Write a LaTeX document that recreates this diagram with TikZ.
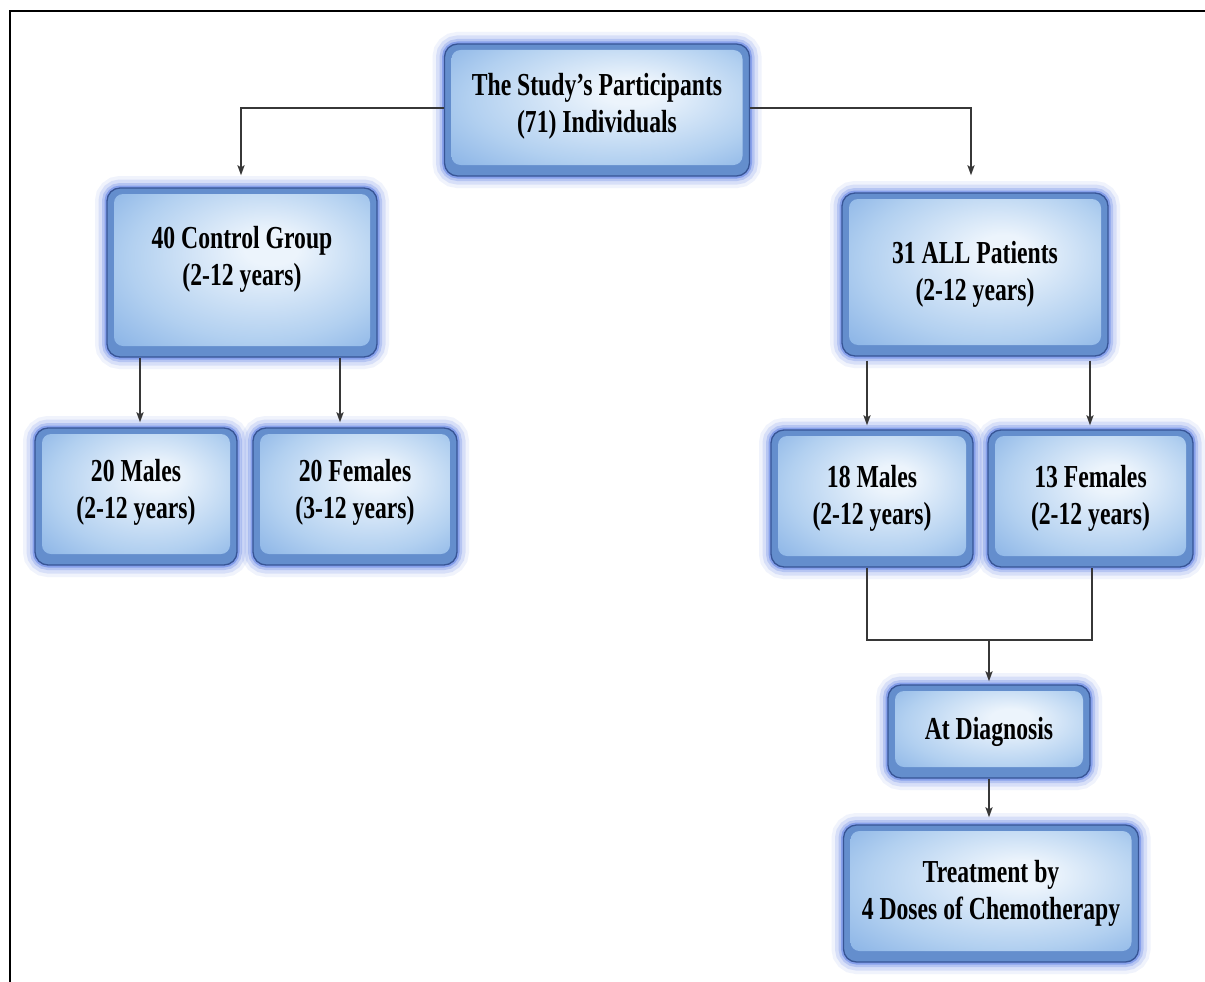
\documentclass[tikz,border=0pt]{standalone}
\usepackage{fontspec}
\usetikzlibrary{arrows.meta,calc}
\newfontfamily\boxfont[FakeStretch=0.74]{Liberation Serif Bold}
\definecolor{glowc}{RGB}{65,105,225}
\definecolor{bordc}{RGB}{55,85,150}
\definecolor{ringc}{RGB}{100,142,205}
\definecolor{fcA}{RGB}{236,244,252}
\definecolor{fcB}{RGB}{178,208,240}
\definecolor{fcC}{RGB}{122,168,226}
\definecolor{linec}{RGB}{55,55,55}
\pgfdeclareradialshading{faceshade}{\pgfpoint{6bp}{8bp}}{color(0bp)=(fcA); color(5bp)=(fcA); color(24bp)=(fcB); color(40bp)=(fcC); color(50bp)=(fcC)}
\tikzset{
  pbox/.style={rectangle, rounded corners=13pt, draw=bordc, line width=1.3pt, fill=ringc,
    align=center, font=\boxfont\fontsize{32}{37}\selectfont, text=black, inner sep=0pt,
    preaction={draw=glowc, line width=24pt, opacity=0.08},
    preaction={draw=glowc, line width=17pt, opacity=0.14},
    preaction={draw=glowc, line width=10pt, opacity=0.22},
    preaction={draw=glowc, line width=5pt, opacity=0.4},
    path picture={
      \shade[shading=faceshade, rounded corners=9pt]
        ([shift={(7pt,-6pt)}]path picture bounding box.north west) rectangle
        ([shift={(-7pt,11pt)}]path picture bounding box.south east);
    }},
  conn/.style={draw=linec, line width=2pt},
  arr/.style={conn, -{Stealth[length=10pt, width=7pt, inset=2pt]}},
}
\begin{document}
\begin{tikzpicture}[x=1pt,y=-1pt]
\useasboundingbox (0,0) rectangle (1205,982);
\fill[white] (0,0) rectangle (1205,982);
\draw[black, line width=2.5pt] (10,1000) -- (10,11) -- (1220,11);

\node[pbox, minimum width=305pt, minimum height=132pt, text depth=14pt] (top) at (597,110)
  {The Study’s Participants\\(71) Individuals};
\node[pbox, minimum width=270pt, minimum height=169pt, text depth=33pt] (ctrl) at (242,272.5)
  {40 Control Group\\(2-12 years)};
\node[pbox, minimum width=266pt, minimum height=163pt] (all) at (975,274.5)
  {31 ALL Patients\\(2-12 years)};
\node[pbox, minimum width=202pt, minimum height=137pt, text depth=15pt] (m20) at (136,496.5)
  {20 Males\\(2-12 years)};
\node[pbox, minimum width=204pt, minimum height=137pt, text depth=15pt] (f20) at (355,496.5)
  {20 Females\\(3-12 years)};
\node[pbox, minimum width=202pt, minimum height=137pt] (m18) at (872,498.5)
  {18 Males\\(2-12 years)};
\node[pbox, minimum width=205pt, minimum height=137pt] (f13) at (1090.5,498.5)
  {13 Females\\(2-12 years)};
\node[pbox, minimum width=202pt, minimum height=93pt] (diag) at (989,731.5)
  {At Diagnosis};
\node[pbox, minimum width=295pt, minimum height=137pt] (treat) at (991,893.5)
  {Treatment by\\4 Doses of Chemotherapy};

\draw[arr] ([yshift=2pt]top.west) -| ([xshift=-1pt,yshift=12pt]ctrl.north);
\draw[arr] ([yshift=2pt]top.east) -| ([xshift=-4pt,yshift=17pt]all.north);
\draw[arr] ([xshift=-102pt]ctrl.south) -- ([xshift=4pt,yshift=5pt]m20.north);
\draw[arr] ([xshift=98pt]ctrl.south) -- ([xshift=-15pt,yshift=5pt]f20.north);
\draw[arr] ([xshift=-108pt,yshift=-4pt]all.south) -- ([xshift=-5pt,yshift=4pt]m18.north);
\draw[arr] ([xshift=115pt,yshift=-4pt]all.south) -- ([xshift=-0.5pt,yshift=4pt]f13.north);
\coordinate (join) at (989,640);
\draw[conn] ([xshift=-5pt]m18.south) |- (join) -| ([xshift=1.5pt]f13.south);
\draw[arr] (join) -- ([yshift=3pt]diag.north);
\draw[arr] (diag.south) -- ([xshift=-2pt,yshift=7pt]treat.north);
\end{tikzpicture}
\end{document}
